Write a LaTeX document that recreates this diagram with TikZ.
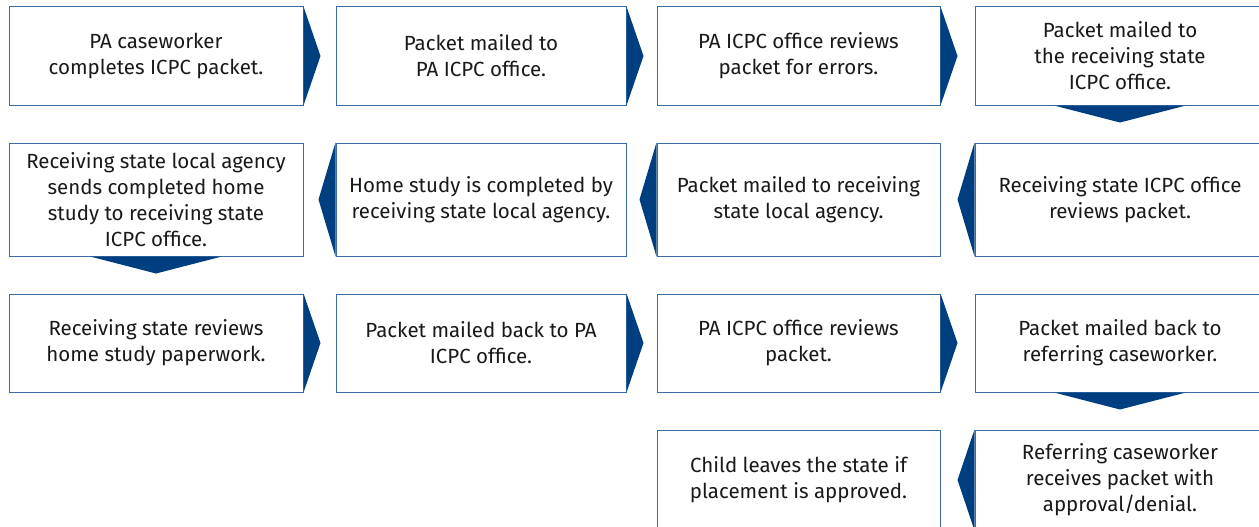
\documentclass[tikz,border=0pt]{standalone}
\usepackage{fontspec}
\setmainfont{Fira Sans}
\definecolor{boxblue}{HTML}{3A6BA3}
\definecolor{arrblue}{HTML}{003F7F}
\tikzset{
	stepbox/.style={draw=boxblue, line width=1pt, fill=white, align=center,
		minimum height=98pt, text=black!90,
		font=\fontsize{20.5}{26}\selectfont, inner sep=0pt},
	arr/.style={fill=arrblue}
}
\begin{document}
\begin{tikzpicture}[x=1pt, y=-1pt]
		\useasboundingbox (0,0) rectangle (1259,527);

		% first row
		\node[stepbox, minimum width=294pt] (b1) at (156,56) {PA caseworker\\completes ICPC packet.};
		\node[stepbox, minimum width=290pt] (b2) at (481,56) {Packet mailed to\\PA ICPC office.};
		\node[stepbox, minimum width=283pt] (b3) at (798.5,56) {PA ICPC office reviews\\packet for errors.};
		\node[stepbox, minimum width=290pt] (b4) at (1120,56) {Packet mailed to\\the receiving state\\ICPC office.};

		% second row
		\node[stepbox, minimum width=290pt, minimum height=113pt] (b5) at (1120,199.5) {Receiving state ICPC office\\reviews packet.};
		\node[stepbox, minimum width=283pt, minimum height=113pt] (b6) at (798.5,199.5) {Packet mailed to receiving\\state local agency.};
		\node[stepbox, minimum width=290pt, minimum height=113pt] (b7) at (481,199.5) {Home study is completed by\\receiving state local agency.};
		\node[stepbox, minimum width=294pt, minimum height=113pt] (b8) at (156,199.5) {Receiving state local agency\\sends completed home\\study to receiving state\\ICPC office.};

		% third row
		\node[stepbox, minimum width=294pt] (b9) at (156,343) {Receiving state reviews\\home study paperwork.};
		\node[stepbox, minimum width=290pt] (b10) at (481,343) {Packet mailed back to PA\\ICPC office.};
		\node[stepbox, minimum width=283pt] (b11) at (798.5,343) {PA ICPC office reviews\\packet.};
		\node[stepbox, minimum width=290pt] (b12) at (1120,343) {Packet mailed back to\\referring caseworker.};

		% last row
		\node[stepbox, minimum width=290pt, minimum height=100pt] (b13) at (1120,480) {Referring caseworker\\receives packet with\\approval/denial.};
		\node[stepbox, minimum width=283pt, minimum height=100pt] (b14) at (798.5,480) {Child leaves the state if\\placement is approved.};

		% arrows to the right
		\foreach \a in {b1,b2,b3,b9,b10,b11}
		{
			\fill[arr] (\a.north east)--([xshift=17pt]\a.east)--(\a.south east)--cycle;
		}
		% arrows to the left
		\foreach \a in {b5,b6,b7,b13}
		{
			\fill[arr] (\a.north west)--([xshift=-17pt]\a.west)--(\a.south west)--cycle;
		}
		% arrows down
		\foreach \a in {b4,b8,b12}
		{
			\fill[arr] ([xshift=-66pt]\a.south)--([yshift=-17pt]\a.south)--([xshift=66pt]\a.south)--cycle;
		}
	\end{tikzpicture}
\end{document}
